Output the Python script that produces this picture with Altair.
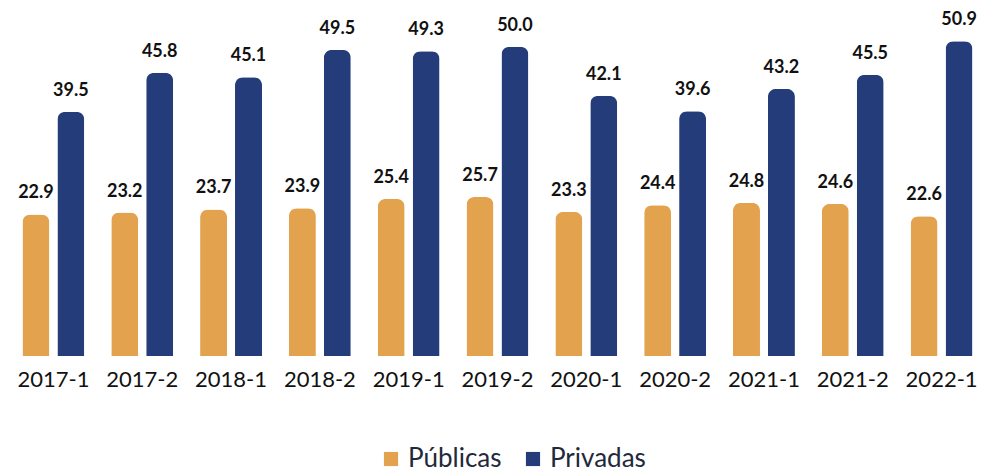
import altair as alt
import pandas as pd

periods = ["2017-1", "2017-2", "2018-1", "2018-2", "2019-1", "2019-2",
           "2020-1", "2020-2", "2021-1", "2021-2", "2022-1"]
publicas = [22.9, 23.2, 23.7, 23.9, 25.4, 25.7, 23.3, 24.4, 24.8, 24.6, 22.6]
privadas = [39.5, 45.8, 45.1, 49.5, 49.3, 50.0, 42.1, 39.6, 43.2, 45.5, 50.9]
series = ["Públicas", "Privadas"]
colors = ["#E2A24E", "#243D7A"]

rows = []
for i, p in enumerate(periods):
    rows.append({"periodo": p, "tipo": series[0], "valor": publicas[i]})
    rows.append({"periodo": p, "tipo": series[1], "valor": privadas[i]})
df = pd.DataFrame(rows)

FONT = "Lato"

x = alt.X("periodo:N", sort=periods, title=None,
          scale=alt.Scale(paddingInner=0.2135, paddingOuter=0.118),
          axis=alt.Axis(labelAngle=0, domain=False, ticks=False, labelFontSize=22,
                        labelFont=FONT, labelColor="#111111", labelPadding=13))
xo = alt.XOffset("tipo:N", sort=series, scale=alt.Scale(paddingInner=0, paddingOuter=0))
y = alt.Y("valor:Q", scale=alt.Scale(domain=[0, 55.8], nice=False), axis=None)

bars = alt.Chart(df).mark_bar(size=27, cornerRadiusTopLeft=8, cornerRadiusTopRight=8).encode(
    x=x, xOffset=xo, y=y,
    color=alt.Color("tipo:N", sort=series, scale=alt.Scale(domain=series, range=colors),
                    legend=alt.Legend(title=None, orient="none", direction="horizontal",
                                      legendX=370, legendY=435,
                                      symbolType="square", symbolSize=200, labelFontSize=26,
                                      labelFont=FONT, labelColor="#1f2a3a",
                                      columnPadding=18, symbolStrokeWidth=0))
)

labels = alt.Chart(df).mark_text(dy=-21, fontSize=18, fontWeight="bold", font=FONT,
                                 color="#111111").encode(
    x=x, xOffset=xo, y=y, text=alt.Text("valor:Q", format=".1f")
)

chart = (bars + labels).properties(
    width=979, height=345,
    padding={"left": 0, "right": 5, "top": 3, "bottom": 0}
).configure_view(stroke=None)

chart.save("out.html", embed_options={"renderer": "svg", "actions": False})
